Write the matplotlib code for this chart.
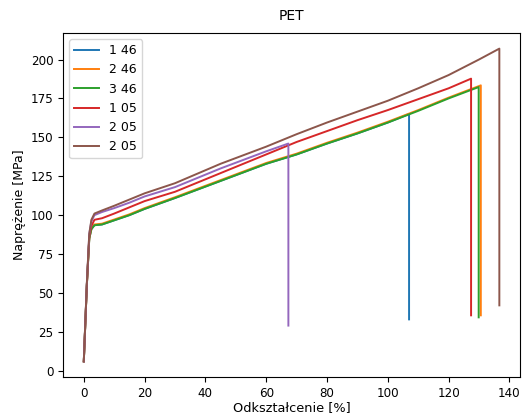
import matplotlib
matplotlib.use("Agg")
import matplotlib.pyplot as plt

labels = ["1 46", "2 46", "3 46", "1 05", "2 05", "2 05"]

x_146 = [0, 1, 1.8, 2.5, 3.5, 6, 9, 15, 20, 30, 45, 60, 70, 80, 90, 100, 107, 107]
y_146 = [6, 55, 85, 91, 93.5, 94, 96, 100, 104, 111, 122, 133, 139, 146, 152.5, 159.5, 165, 33]

x_246 = [0, 1, 1.8, 2.5, 3.5, 6, 9, 15, 20, 30, 45, 60, 70, 80, 90, 100, 110, 120, 130.6, 130.6]
y_246 = [6, 55, 85, 91.5, 94, 94.5, 96.5, 100.5, 104.5, 111.5, 122.5, 133.5, 139.5, 146.5, 153, 160, 167.5, 175.5, 183.4, 35.6]

x_346 = [0, 1, 1.8, 2.5, 3.5, 6, 9, 15, 20, 30, 45, 60, 70, 80, 90, 100, 110, 120, 129.9, 129.9]
y_346 = [6, 55, 85, 91, 93.5, 94, 96, 100, 104, 111, 122, 133, 139, 146, 152.5, 159.5, 167, 175, 182.3, 34.3]

x_105 = [0, 1, 1.8, 2.5, 3.5, 6, 10, 15, 20, 30, 45, 60, 70, 80, 90, 100, 110, 120, 127.4, 127.4]
y_105 = [6, 55, 86, 93, 97, 98, 101, 105, 109, 115, 127, 139, 147, 154, 161, 167.5, 174.5, 181.5, 187.7, 35.6]

x_205a = [0, 1, 1.8, 2.5, 3.5, 6, 10, 15, 20, 30, 45, 60, 67.3, 67.3]
y_205a = [6, 56, 88, 96, 100, 102, 104.5, 108, 112, 118, 130, 141, 146, 29]

x_205b = [0, 1, 1.8, 2.5, 3.5, 6, 10, 15, 20, 30, 45, 60, 70, 80, 90, 100, 110, 120, 130, 136.7, 136.7]
y_205b = [6, 56, 88, 97, 101, 103, 106, 110, 114, 120.5, 133, 144, 152, 159.5, 166.5, 173.5, 181.5, 190, 200, 207, 42]

series = [(x_146, y_146), (x_246, y_246), (x_346, y_346),
          (x_105, y_105), (x_205a, y_205a), (x_205b, y_205b)]

plt.rcParams['font.family'] = ['DejaVu Sans']
plt.rcParams['font.size'] = 8.6

fig = plt.figure(figsize=(5.23, 4.16), dpi=100)
ax = fig.add_axes([0.1205, 0.0937, 0.874, 0.827])
for (xs, ys), lab in zip(series, labels):
    ax.plot(xs, ys, label=lab, linewidth=1.4)

ax.set_title("PET", fontsize=10, pad=9)
ax.set_xlabel("Odkształcenie [%]", fontsize=9.3, labelpad=1)
ax.set_ylabel("Naprężenie [MPa]", fontsize=9.0, labelpad=3)
ax.set_xticks([0, 20, 40, 60, 80, 100, 120, 140])
ax.set_yticks([0, 25, 50, 75, 100, 125, 150, 175, 200])
ax.legend(loc="upper left", fontsize=9.0)
fig.savefig("out.png", dpi=100)
